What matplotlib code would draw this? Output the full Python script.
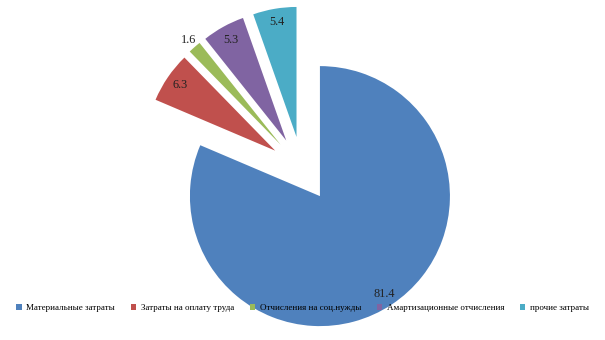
import numpy as np
import matplotlib
matplotlib.use("Agg")
import matplotlib.pyplot as plt

categories = ["Материальные затраты", "Затраты на оплату труда", "Отчисления на соц.нужды",
              "Амартизационные отчисления", "прочие затраты"]
values = [81.4, 6.3, 1.6, 5.3, 5.4]
colors = ["#4F81BD", "#C0504D", "#9BBB59", "#8064A2", "#4BACC6"]

plt.rcParams["font.family"] = ["Liberation Serif", "DejaVu Serif"]

W, H, R = 605, 340, 130.0
cx, cy = 302, 340 - 169

fig = plt.figure(figsize=(W / 100, H / 100), dpi=100)
ax = fig.add_axes([0, 0, 1, 1])
wedges, _ = ax.pie(values, colors=colors, startangle=90, counterclock=False,
                   explode=[0.25] * len(values), radius=1,
                   wedgeprops=dict(linewidth=0))
ax.set_xlim(-cx / R, (W - cx) / R)
ax.set_ylim(-cy / R, (H - cy) / R)
ax.set_aspect("equal", adjustable="box")
ax.axis("off")

# дистанция подписей (доля радиуса от вершины сектора)
label_dist = [0.9, 0.89, 1.07, 0.88, 0.9]
for w, v, d in zip(wedges, values, label_dist):
    mid = np.deg2rad((w.theta1 + w.theta2) / 2)
    x0, y0 = w.center
    ax.text(x0 + d * w.r * np.cos(mid), y0 + d * w.r * np.sin(mid), f"{v:.1f}",
            ha="center", va="center", fontsize=8.8, color="#222222")

fig.legend(wedges, categories, loc="center", bbox_to_anchor=(0.5, 1 - 308 / H),
           ncol=5, frameon=False, fontsize=6.5, handlelength=0.6, handleheight=0.6,
           handletextpad=0.5, columnspacing=1.75, borderaxespad=0)

fig.savefig("out.png", dpi=100)
